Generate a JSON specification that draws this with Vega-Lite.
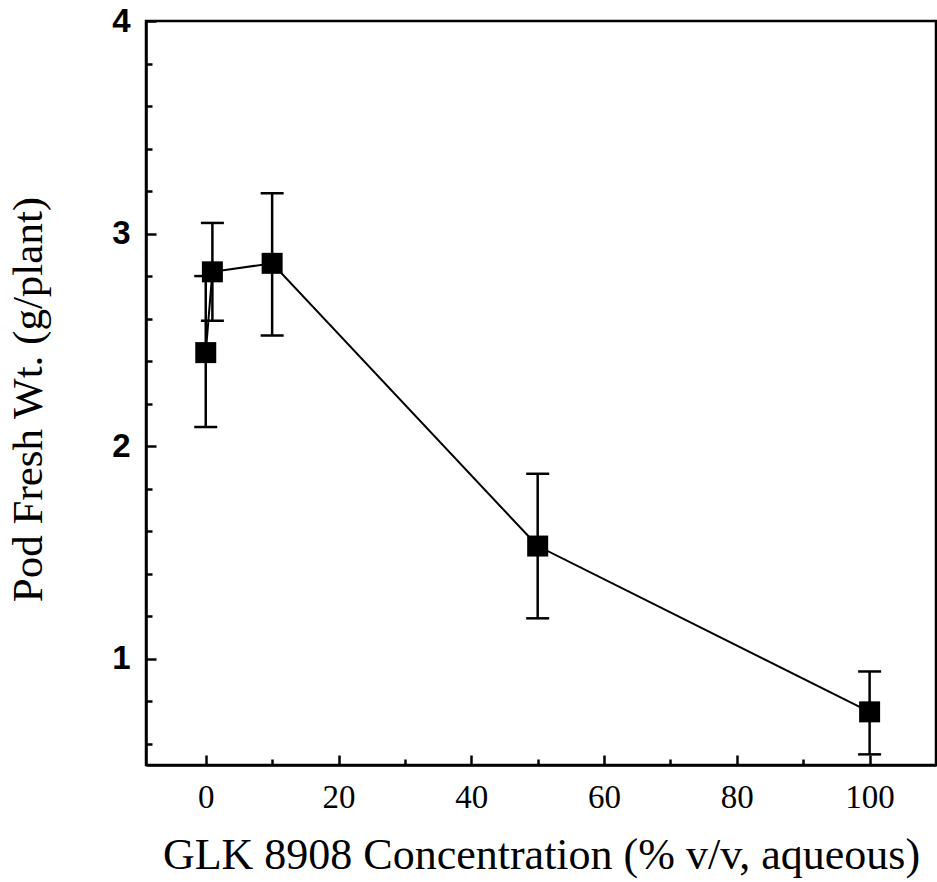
{
  "$schema": "https://vega.github.io/schema/vega-lite/v6.json",
  "autosize": "none",
  "width": 790,
  "height": 744,
  "padding": {"left": 146, "top": 21, "right": 1, "bottom": 117},
  "background": "white",
  "config": {
    "view": {"stroke": "black", "strokeWidth": 2.5},
    "axis": {"grid": false, "domainColor": "black", "tickColor": "black", "labelColor": "black", "titleColor": "black"}
  },
  "data": {
    "values": [
      {"conc": 0, "mean": 2.44, "lo": 2.09, "hi": 2.80},
      {"conc": 1, "mean": 2.82, "lo": 2.59, "hi": 3.05},
      {"conc": 10, "mean": 2.86, "lo": 2.52, "hi": 3.19},
      {"conc": 50, "mean": 1.53, "lo": 1.19, "hi": 1.87},
      {"conc": 100, "mean": 0.75, "lo": 0.55, "hi": 0.94}
    ]
  },
  "resolve": {"axis": {"x": "independent", "y": "independent"}},
  "layer": [
    {
      "mark": {"type": "line", "color": "black", "strokeWidth": 2},
      "encoding": {
        "x": {
          "field": "conc", "type": "quantitative",
          "scale": {"domain": [-9, 110], "nice": false, "zero": false},
          "axis": {
            "orient": "bottom", "values": [0, 20, 40, 60, 80, 100], "ticks": false,
            "domain": true, "domainWidth": 2.5, "format": "d",
            "labelFont": "Liberation Serif", "labelFontSize": 33, "labelPadding": 42, "labelBaseline": "alphabetic",
            "title": "GLK 8908 Concentration (% v/v, aqueous)",
            "titleFont": "Liberation Serif", "titleFontSize": 44, "titleFontWeight": "normal",
            "titleBaseline": "alphabetic", "titleY": 103, "titleX": 395
          }
        },
        "y": {
          "field": "mean", "type": "quantitative",
          "scale": {"domain": [0.5, 4], "nice": false, "zero": false},
          "axis": {
            "orient": "left", "values": [1, 2, 3, 4], "ticks": false,
            "domain": true, "domainWidth": 2.5, "format": "d",
            "labelFont": "Liberation Sans", "labelFontWeight": "bold", "labelFontSize": 33, "labelPadding": 16,
            "title": "Pod Fresh Wt. (g/plant)",
            "titleFont": "Liberation Serif", "titleFontSize": 43, "titleFontWeight": "normal",
            "titleAngle": -90, "titleBaseline": "alphabetic", "titleAlign": "center",
            "titleX": -105, "titleY": 378
          }
        }
      }
    },
    {
      "mark": {"type": "rule", "color": "black", "strokeWidth": 2.5},
      "encoding": {
        "x": {
          "field": "conc", "type": "quantitative",
          "axis": {"orient": "bottom", "values": [0, 20, 40, 60, 80, 100], "labels": false, "domain": false, "title": null, "tickSize": -10, "tickWidth": 2.5}
        },
        "y": {
          "field": "lo", "type": "quantitative",
          "axis": {"orient": "left", "values": [1, 2, 3, 4], "labels": false, "domain": false, "title": null, "tickSize": -10, "tickWidth": 2.5}
        },
        "y2": {"field": "hi"}
      }
    },
    {
      "transform": [{"fold": ["lo", "hi"], "as": ["bound", "val"]}],
      "mark": {"type": "tick", "orient": "horizontal", "color": "black", "size": 23, "thickness": 2.5, "opacity": 1},
      "encoding": {
        "x": {
          "field": "conc", "type": "quantitative",
          "axis": {"orient": "bottom", "values": [10, 30, 50, 70, 90], "labels": false, "domain": false, "title": null, "tickSize": -6, "tickWidth": 2.5}
        },
        "y": {
          "field": "val", "type": "quantitative",
          "axis": {"orient": "left", "values": [0.6, 0.8, 1.2, 1.4, 1.6, 1.8, 2.2, 2.4, 2.6, 2.8, 3.2, 3.4, 3.6, 3.8], "labels": false, "domain": false, "title": null, "tickSize": -6, "tickWidth": 2.5}
        }
      }
    },
    {
      "mark": {"type": "square", "color": "black", "filled": true, "opacity": 1, "size": 441},
      "encoding": {
        "x": {"field": "conc", "type": "quantitative", "axis": null},
        "y": {"field": "mean", "type": "quantitative", "axis": null}
      }
    }
  ]
}
